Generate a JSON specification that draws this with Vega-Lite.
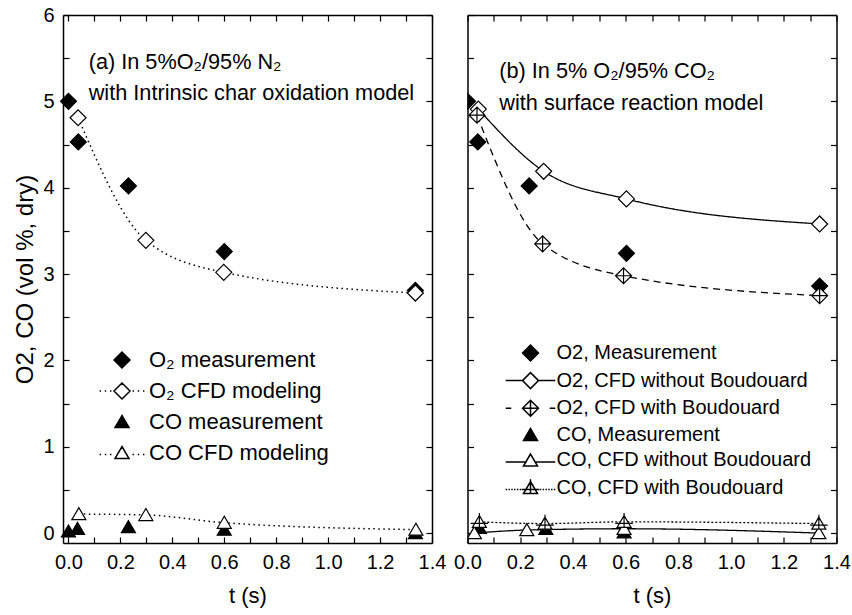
{
  "$schema": "https://vega.github.io/schema/vega-lite/v6.json",
  "background": "white",
  "padding": {"left": 13, "top": 5, "right": 5, "bottom": 5},
  "bounds": "flush",
  "spacing": 35.5,
  "resolve": {
    "scale": {"shape": "independent", "fill": "independent", "strokeDash": "independent"},
    "legend": {"shape": "independent", "fill": "independent", "strokeDash": "independent"}
  },
  "config": {
    "font": "Liberation Sans",
    "view": {"stroke": null},
    "axis": {
      "domainColor": "black", "domainWidth": 1.5,
      "tickColor": "black", "tickWidth": 1.2, "tickSize": -6,
      "labelFont": "Liberation Sans", "labelFontSize": 20, "labelColor": "black",
      "titleFont": "Liberation Sans", "titleFontSize": 22, "titleFontWeight": "normal", "titleColor": "black",
      "grid": false, "labelFlush": false, "labelOverlap": false, "labelBound": false
    }
  },
  "hconcat": [
    {
      "width": 369, "height": 528,
      "title": {"text": ["(a) In 5%O₂/95% N₂", "with Intrinsic char oxidation model"], "orient": "top", "anchor": "start", "frame": "group", "offset": -100, "dx": 25.7, "baseline": "top", "lineHeight": 31.7, "fontSize": 21.7, "fontWeight": "normal", "font": "Liberation Sans", "color": "black"},
      "data": {"values": [
        {"series": "O₂ measurement", "t": 0.0, "v": 5.0},
        {"series": "O₂ measurement", "t": 0.038, "v": 4.53},
        {"series": "O₂ measurement", "t": 0.231, "v": 4.02},
        {"series": "O₂ measurement", "t": 0.6, "v": 3.26},
        {"series": "O₂ measurement", "t": 1.336, "v": 2.81},
        {"series": "O₂ CFD modeling", "t": 0.037, "v": 4.81},
        {"series": "O₂ CFD modeling", "t": 0.298, "v": 3.39},
        {"series": "O₂ CFD modeling", "t": 0.598, "v": 3.02},
        {"series": "O₂ CFD modeling", "t": 1.336, "v": 2.78},
        {"series": "CO measurement", "t": 0.0, "v": 0.02},
        {"series": "CO measurement", "t": 0.035, "v": 0.05},
        {"series": "CO measurement", "t": 0.231, "v": 0.07},
        {"series": "CO measurement", "t": 0.6, "v": 0.04},
        {"series": "CO measurement", "t": 1.336, "v": 0.0},
        {"series": "CO CFD modeling", "t": 0.04, "v": 0.22},
        {"series": "CO CFD modeling", "t": 0.298, "v": 0.21},
        {"series": "CO CFD modeling", "t": 0.6, "v": 0.12},
        {"series": "CO CFD modeling", "t": 1.338, "v": 0.04}
      ]},
      "resolve": {"axis": {"x": "independent", "y": "independent"}, "scale": {"shape": "independent"}, "legend": {"shape": "independent"}},
      "layer": [
        {
          "transform": [{"filter": {"field": "series", "oneOf": ["O₂ CFD modeling", "CO CFD modeling"]}}],
          "mark": {"type": "line", "interpolate": "monotone", "color": "black", "strokeWidth": 1.5, "strokeDash": [1.5, 3.5]},
          "encoding": {
            "x": {"field": "t", "type": "quantitative", "scale": {"domain": [-0.021, 1.4], "nice": false, "zero": false},
                  "axis": {"orient": "top", "values": [0,0.1,0.2,0.3,0.4,0.5,0.6,0.7,0.8,0.9,1.0,1.1,1.2,1.3,1.4], "labels": false, "title": null}},
            "y": {"field": "v", "type": "quantitative", "scale": {"domain": [-0.115, 6], "nice": false, "zero": false},
                  "axis": {"orient": "right", "values": [0,0.5,1,1.5,2,2.5,3,3.5,4,4.5,5,5.5,6], "labels": false, "title": null}},
            "detail": {"field": "series"}
          }
        },
        {
          "mark": {"type": "point", "filled": true, "stroke": "black", "strokeWidth": 1.2, "size": 256, "opacity": 1},
          "encoding": {
            "x": {"field": "t", "type": "quantitative",
                  "axis": {"orient": "bottom", "values": [0,0.1,0.2,0.3,0.4,0.5,0.6,0.7,0.8,0.9,1.0,1.1,1.2,1.3,1.4], "labelExpr": "round(datum.value*10)%2==0 ? format(datum.value,'.1f') : ''", "labelPadding": 15, "title": "t (s)", "titlePadding": 13}},
            "y": {"field": "v", "type": "quantitative",
                  "axis": {"orient": "left", "values": [0,0.5,1,1.5,2,2.5,3,3.5,4,4.5,5,5.5,6], "labelExpr": "datum.value%1==0 ? format(datum.value,'d') : ''", "labelPadding": 15, "title": "O2, CO (vol %, dry)", "titleFontSize": 24, "titlePadding": 5}},
            "fill": {"field": "series", "type": "nominal", "scale": {"domain": ["O₂ measurement", "O₂ CFD modeling", "CO measurement", "CO CFD modeling"], "range": ["black", "white", "black", "white"]}, "legend": null},
            "shape": {"field": "series", "type": "nominal",
              "scale": {"domain": ["O₂ measurement", "O₂ CFD modeling", "CO measurement", "CO CFD modeling"],
                        "range": ["M-1,0L0,-1L1,0L0,1Z", "M-1,0L0,-1L1,0L0,1Z", "M0,-0.8L-0.875,0.7L0.875,0.7Z", "M0,-0.8L-0.875,0.7L0.875,0.7Z"]},
              "legend": null}
          }
        },
        {
          "transform": [{"filter": "datum.t < -5"}],
          "mark": {"type": "point", "filled": true, "fill": "white", "stroke": "black", "strokeWidth": 1.2, "size": 256, "opacity": 1},
          "encoding": {
            "x": {"field": "t", "type": "quantitative", "axis": null},
            "y": {"field": "v", "type": "quantitative", "axis": null},
            "shape": {"field": "series", "type": "nominal",
              "scale": {"domain": ["O₂ measurement", "O₂ CFD modeling", "CO measurement", "CO CFD modeling"],
                        "range": [
                          "M-1,0L0,-1L1,0L0,1ZM-0.125,-0.875L0.125,-0.875M-0.25,-0.75L0.25,-0.75M-0.375,-0.625L0.375,-0.625M-0.5,-0.5L0.5,-0.5M-0.625,-0.375L0.625,-0.375M-0.75,-0.25L0.75,-0.25M-0.875,-0.125L0.875,-0.125M-1,0L1,0M-0.875,0.125L0.875,0.125M-0.75,0.25L0.75,0.25M-0.625,0.375L0.625,0.375M-0.5,0.5L0.5,0.5M-0.375,0.625L0.375,0.625M-0.25,0.75L0.25,0.75M-0.125,0.875L0.125,0.875",
                          "M-2.8,0L-2.62,0M-2.15,0L-1.97,0M-1.5,0L-1.32,0M1.32,0L1.5,0M1.97,0L2.15,0M2.62,0L2.8,0M-1,0L0,-1L1,0L0,1Z",
                          "M0,-0.8L-0.875,0.7L0.875,0.7ZM-0.073,-0.675L0.073,-0.675M-0.146,-0.55L0.146,-0.55M-0.219,-0.425L0.219,-0.425M-0.292,-0.3L0.292,-0.3M-0.365,-0.175L0.365,-0.175M-0.438,-0.05L0.438,-0.05M-0.51,0.075L0.51,0.075M-0.583,0.2L0.583,0.2M-0.656,0.325L0.656,0.325M-0.729,0.45L0.729,0.45M-0.802,0.575L0.802,0.575",
                          "M-2.8,0.2L-2.62,0.2M-2.15,0.2L-1.97,0.2M-1.5,0.2L-1.32,0.2M1.32,0.2L1.5,0.2M1.97,0.2L2.15,0.2M2.62,0.2L2.8,0.2M0,-0.8L-0.875,0.7L0.875,0.7Z"
                        ]},
              "legend": {
                "orient": "none", "legendX": 48, "legendY": 334, "title": null, "padding": 0,
                "symbolSize": 256,
                "labelFont": "Liberation Sans", "labelFontSize": 22, "labelColor": "black", "labelOffset": 16, "rowPadding": 9, "labelLimit": 400
              }
            }
          }
        }
      ]
    },
    {
      "width": 369, "height": 528,
      "title": {"text": ["(b) In 5% O₂/95% CO₂", "with surface reaction model"], "orient": "top", "anchor": "start", "frame": "group", "offset": -100, "dx": 31.8, "baseline": "top", "lineHeight": 31.7, "fontSize": 21.7, "fontWeight": "normal", "font": "Liberation Sans", "color": "black"},
      "data": {"values": [
        {"series": "O2, Measurement", "t": 0.0, "v": 5.0},
        {"series": "O2, Measurement", "t": 0.039, "v": 4.53},
        {"series": "O2, Measurement", "t": 0.234, "v": 4.02},
        {"series": "O2, Measurement", "t": 0.603, "v": 3.24},
        {"series": "O2, Measurement", "t": 1.336, "v": 2.86},
        {"series": "O2, CFD without Boudouard", "t": 0.041, "v": 4.91},
        {"series": "O2, CFD without Boudouard", "t": 0.289, "v": 4.19},
        {"series": "O2, CFD without Boudouard", "t": 0.603, "v": 3.87},
        {"series": "O2, CFD without Boudouard", "t": 1.336, "v": 3.58},
        {"series": "O2, CFD with Boudouard", "t": 0.036, "v": 4.84},
        {"series": "O2, CFD with Boudouard", "t": 0.285, "v": 3.35},
        {"series": "O2, CFD with Boudouard", "t": 0.592, "v": 2.98},
        {"series": "O2, CFD with Boudouard", "t": 1.336, "v": 2.75},
        {"series": "CO, Measurement", "t": 0.045, "v": 0.06},
        {"series": "CO, Measurement", "t": 0.297, "v": 0.05},
        {"series": "CO, Measurement", "t": 0.594, "v": 0.01},
        {"series": "CO, CFD without Boudouard", "t": 0.026, "v": 0.0},
        {"series": "CO, CFD without Boudouard", "t": 0.225, "v": 0.035},
        {"series": "CO, CFD without Boudouard", "t": 0.594, "v": 0.05},
        {"series": "CO, CFD without Boudouard", "t": 1.333, "v": 0.0},
        {"series": "CO, CFD with Boudouard", "t": 0.045, "v": 0.13},
        {"series": "CO, CFD with Boudouard", "t": 0.294, "v": 0.11},
        {"series": "CO, CFD with Boudouard", "t": 0.594, "v": 0.13},
        {"series": "CO, CFD with Boudouard", "t": 1.333, "v": 0.11}
      ]},
      "resolve": {"axis": {"x": "independent", "y": "independent"}, "scale": {"shape": "independent"}, "legend": {"shape": "independent"}},
      "layer": [
        {
          "transform": [{"filter": {"field": "series", "oneOf": ["O2, CFD without Boudouard", "O2, CFD with Boudouard", "CO, CFD without Boudouard", "CO, CFD with Boudouard"]}}],
          "mark": {"type": "line", "interpolate": "monotone", "color": "black", "strokeWidth": 1.3},
          "encoding": {
            "x": {"field": "t", "type": "quantitative", "scale": {"domain": [0, 1.4], "nice": false, "zero": false},
                  "axis": {"orient": "top", "values": [0,0.1,0.2,0.3,0.4,0.5,0.6,0.7,0.8,0.9,1.0,1.1,1.2,1.3,1.4], "labels": false, "title": null}},
            "y": {"field": "v", "type": "quantitative", "scale": {"domain": [-0.115, 6], "nice": false, "zero": false},
                  "axis": {"orient": "right", "values": [0,0.5,1,1.5,2,2.5,3,3.5,4,4.5,5,5.5,6], "labels": false, "title": null}},
            "detail": {"field": "series"},
            "strokeDash": {"field": "series", "type": "nominal", "scale": {"domain": ["O2, CFD without Boudouard", "O2, CFD with Boudouard", "CO, CFD without Boudouard", "CO, CFD with Boudouard"], "range": [[1, 0], [7, 5], [1, 0], [2, 2]]}, "legend": null}
          }
        },
        {
          "mark": {"type": "point", "filled": true, "stroke": "black", "strokeWidth": 1.2, "size": 256, "opacity": 1, "clip": true},
          "encoding": {
            "x": {"field": "t", "type": "quantitative",
                  "axis": {"orient": "bottom", "values": [0,0.1,0.2,0.3,0.4,0.5,0.6,0.7,0.8,0.9,1.0,1.1,1.2,1.3,1.4], "labelExpr": "round(datum.value*10)%2==0 ? format(datum.value,'.1f') : ''", "labelPadding": 15, "title": "t (s)", "titlePadding": 13}},
            "y": {"field": "v", "type": "quantitative",
                  "axis": {"orient": "left", "values": [0,0.5,1,1.5,2,2.5,3,3.5,4,4.5,5,5.5,6], "labels": false, "title": null}},
            "fill": {"field": "series", "type": "nominal", "scale": {"domain": ["O2, Measurement", "O2, CFD without Boudouard", "O2, CFD with Boudouard", "CO, Measurement", "CO, CFD without Boudouard", "CO, CFD with Boudouard"], "range": ["black", "white", "white", "black", "white", "white"]}, "legend": null},
            "shape": {"field": "series", "type": "nominal",
              "scale": {"domain": ["O2, Measurement", "O2, CFD without Boudouard", "O2, CFD with Boudouard", "CO, Measurement", "CO, CFD without Boudouard", "CO, CFD with Boudouard"],
                        "range": ["M-1,0L0,-1L1,0L0,1Z", "M-1,0L0,-1L1,0L0,1Z", "M-1,0L0,-1L1,0L0,1ZM-1,0L1,0M0,-1L0,1", "M0,-0.8L-0.875,0.7L0.875,0.7Z", "M0,-0.8L-0.875,0.7L0.875,0.7Z", "M0,-0.8L-0.875,0.7L0.875,0.7ZM0,-1.1L0,0.7M-1.1,0.2L1.1,0.2"]},
              "legend": null}
          }
        },
        {
          "transform": [{"filter": "datum.t < -5"}],
          "mark": {"type": "point", "filled": true, "fill": "white", "stroke": "black", "strokeWidth": 1.2, "size": 256, "opacity": 1},
          "encoding": {
            "x": {"field": "t", "type": "quantitative", "axis": null},
            "y": {"field": "v", "type": "quantitative", "axis": null},
            "shape": {"field": "series", "type": "nominal",
              "scale": {"domain": ["O2, Measurement", "O2, CFD without Boudouard", "O2, CFD with Boudouard", "CO, Measurement", "CO, CFD without Boudouard", "CO, CFD with Boudouard"],
                        "range": [
                          "M-1,0L0,-1L1,0L0,1ZM-0.125,-0.875L0.125,-0.875M-0.25,-0.75L0.25,-0.75M-0.375,-0.625L0.375,-0.625M-0.5,-0.5L0.5,-0.5M-0.625,-0.375L0.625,-0.375M-0.75,-0.25L0.75,-0.25M-0.875,-0.125L0.875,-0.125M-1,0L1,0M-0.875,0.125L0.875,0.125M-0.75,0.25L0.75,0.25M-0.625,0.375L0.625,0.375M-0.5,0.5L0.5,0.5M-0.375,0.625L0.375,0.625M-0.25,0.75L0.25,0.75M-0.125,0.875L0.125,0.875",
                          "M-3.1,0L-1,0M1,0L3.1,0M-1,0L0,-1L1,0L0,1Z",
                          "M-3.1,0L-2.4,0M2.4,0L3.1,0M-1,0L0,-1L1,0L0,1ZM-1,0L1,0M0,-1L0,1",
                          "M0,-0.8L-0.875,0.7L0.875,0.7ZM-0.073,-0.675L0.073,-0.675M-0.146,-0.55L0.146,-0.55M-0.219,-0.425L0.219,-0.425M-0.292,-0.3L0.292,-0.3M-0.365,-0.175L0.365,-0.175M-0.438,-0.05L0.438,-0.05M-0.51,0.075L0.51,0.075M-0.583,0.2L0.583,0.2M-0.656,0.325L0.656,0.325M-0.729,0.45L0.729,0.45M-0.802,0.575L0.802,0.575",
                          "M-3.1,0.2L-0.58,0.2M0.58,0.2L3.1,0.2M0,-0.8L-0.875,0.7L0.875,0.7Z",
                          "M-3.1,0.2L-2.92,0.2M-2.75,0.2L-2.57,0.2M-2.4,0.2L-2.22,0.2M-2.05,0.2L-1.87,0.2M-1.7,0.2L-1.52,0.2M-1.35,0.2L-1.17,0.2M1.17,0.2L1.35,0.2M1.52,0.2L1.7,0.2M1.87,0.2L2.05,0.2M2.22,0.2L2.4,0.2M2.57,0.2L2.75,0.2M2.92,0.2L3.1,0.2M0,-0.8L-0.875,0.7L0.875,0.7ZM0,-1.1L0,0.7M-1.1,0.2L1.1,0.2"
                        ]},
              "legend": {
                "orient": "none", "legendX": 53, "legendY": 328, "title": null, "padding": 0,
                "symbolSize": 256,
                "labelFont": "Liberation Sans", "labelFontSize": 20, "labelColor": "black", "labelOffset": 16, "rowPadding": 5.6, "labelLimit": 400
              }
            }
          }
        }
      ]
    }
  ]
}
